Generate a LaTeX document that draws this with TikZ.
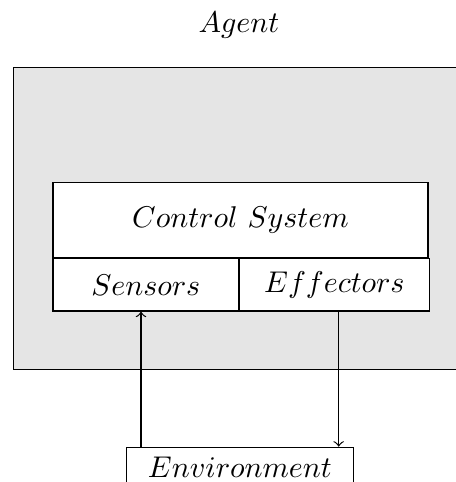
\documentclass[tikz,border=0pt]{standalone}
\begin{document}
\begin{tikzpicture}
	\tikzset{cell/.style={draw,fill=white,anchor=north west,inner sep=0pt}}
	\useasboundingbox (0,0) rectangle (5.342,-5.647);
	\draw[fill=gray!20] (0.158,-0.791) rectangle (5.465,-4.329);
	\node[anchor=base] (agent) at (2.80,-0.378) {$Agent$};
	\node[cell,minimum width=4.391cm,minimum height=0.878cm] (control) at (0.615,-2.129) {$Control\ System$};
	\node[cell,minimum width=2.173cm,minimum height=0.616cm] (sensors) at (control.south west) {$Sensors$};
	\node[cell,minimum width=2.218cm,minimum height=0.616cm] (effectors) at (sensors.north east) {$Effectors$};
	\node[draw,anchor=north,minimum width=2.655cm] (env) at (2.811,-5.233) {$Environment$};
	\coordinate (sin) at (1.652,-4.5);
	\coordinate (eout) at (3.968,-4.5);
	\draw[->] (sin |- env.north) -- (sin |- sensors.south);
	\draw[->] (eout |- effectors.south) -- (eout |- env.north);
\end{tikzpicture}
\end{document}
